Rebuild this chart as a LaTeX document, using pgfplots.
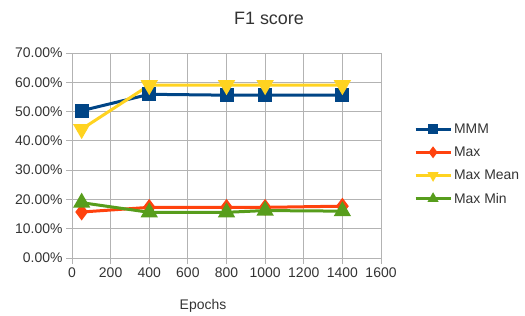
\documentclass[border=0pt]{standalone}
\usepackage{pgfplots}
\pgfplotsset{compat=1.18}
\usepackage{fontspec}
\setmainfont{Liberation Sans}
\definecolor{cMMM}{HTML}{004586}
\definecolor{cMax}{HTML}{FF420E}
\definecolor{cMean}{HTML}{FFD320}
\definecolor{cMin}{HTML}{579D1C}
\definecolor{txt}{HTML}{333333}
\definecolor{gridc}{HTML}{B3B3B3}
\begin{document}
\begin{tikzpicture}[x=1bp,y=1bp]
\begin{axis}[
  at={(72bp,54bp)}, anchor=south west,
  scale only axis, width=309bp, height=205bp,
  xmin=0, xmax=1600, ymin=0, ymax=70,
  xtick={0,200,...,1600}, ytick={0,10,...,70},
  axis line style={gridc},
  grid=major, major grid style={gridc, line width=0.8pt},
  xtick pos=bottom, ytick pos=left, tick align=outside,
  major tick length=6bp, tick style={gridc, line width=0.8pt},
  /pgf/number format/assume math mode=true,
  ticklabel style={font=\fontsize{14}{16}\selectfont, text=txt},
  xticklabel style={/pgf/number format/1000 sep={}},
  yticklabel={\pgfmathprintnumber[fixed,fixed zerofill,precision=2]{\tick}\%},
  scaled y ticks=false,
  legend style={at={(1.107,0.665)}, anchor=north west, draw=none, fill=none,
    inner sep=0pt, outer sep=0pt,
    font=\fontsize{14}{16}\selectfont, text=txt, row sep=8bp,
    /tikz/every even column/.append style={column sep=4bp}},
  legend cell align=left,
  legend image code/.code={
    \draw[#1, line width=3bp, mark size=3.5bp, mark repeat=2, mark phase=2]
      plot coordinates {(0bp,0bp) (17.5bp,0bp) (35bp,0bp)};
  },
  every axis plot/.append style={line width=3bp},
  clip=false,
]
\addplot[cMMM, mark=square*, mark size=5.5bp, mark options={fill=cMMM}] coordinates {
  (50,50.3) (400,55.9) (800,55.6) (1000,55.6) (1400,55.6)};
\addlegendentry{MMM}
\addplot[cMax, mark=diamond*, mark size=6bp, mark options={fill=cMax}] coordinates {
  (50,15.7) (400,17.3) (800,17.3) (1000,17.3) (1400,17.7)};
\addlegendentry{Max}
\addplot[cMean, mark=triangle*, mark size=7bp, mark options={fill=cMean, rotate=180}] coordinates {
  (50,44.0) (400,59.0) (800,59.0) (1000,59.0) (1400,59.0)};
\addlegendentry{Max Mean}
\addplot[cMin, mark=triangle*, mark size=7bp, mark options={fill=cMin}] coordinates {
  (50,18.9) (400,15.6) (800,15.6) (1000,16.2) (1400,16.0)};
\addlegendentry{Max Min}
\end{axis}
\node[font=\fontsize{18}{20}\selectfont, text=txt] at (269,294) {F1 score};
\node[font=\fontsize{14}{16}\selectfont, text=txt] at (203,6) {Epochs};
\path (0,0) rectangle (525,312);
\end{tikzpicture}
\end{document}
